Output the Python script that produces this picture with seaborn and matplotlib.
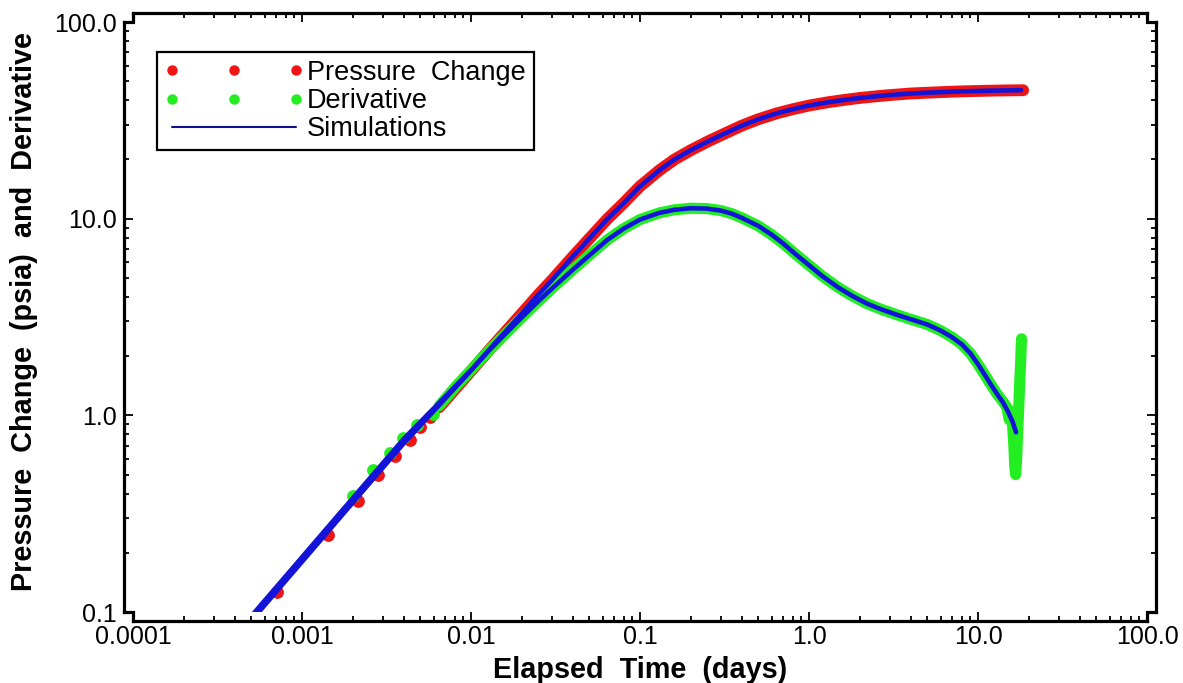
import numpy as np
import pandas as pd
import matplotlib
matplotlib.use("Agg")
import matplotlib.pyplot as plt
import seaborn as sns
from matplotlib.lines import Line2D
from matplotlib.legend_handler import HandlerLine2D
from matplotlib.ticker import FixedLocator, FixedFormatter, LogLocator, NullFormatter

# ---------------- data ----------------
# Pressure change data: sparse early points, then dense record
press_t_early = [0.00071, 0.00143, 0.00215, 0.00282, 0.00355, 0.00435, 0.00499, 0.00572]
press_p_early = [0.127, 0.245, 0.368, 0.50, 0.623, 0.75, 0.875, 0.98]
press_t = [0.0065, 0.008, 0.01, 0.013, 0.016, 0.02, 0.025, 0.03, 0.04, 0.05, 0.064, 0.08,
           0.1, 0.13, 0.16, 0.2, 0.25, 0.3, 0.4, 0.5, 0.65, 0.8, 1.0, 1.3, 1.6, 2.0, 2.5,
           3.0, 4.0, 5.0, 6.5, 8.0, 10.0, 12.5, 15.0, 18.5]
press_p = [1.10, 1.35, 1.68, 2.18, 2.66, 3.3, 4.1, 4.85, 6.4, 7.9, 9.95, 12.0,
           14.6, 17.6, 20.0, 22.3, 24.6, 26.5, 29.7, 32.0, 34.4, 36.0, 37.6, 39.1, 40.1, 41.1, 41.9,
           42.5, 43.3, 43.7, 44.1, 44.4, 44.6, 44.8, 44.9, 45.0]

# Derivative data
deriv_t_early = [0.0020, 0.00263, 0.00332, 0.00398, 0.00479, 0.00596]
deriv_p_early = [0.39, 0.525, 0.645, 0.77, 0.89, 1.02]
deriv_t = [0.0065, 0.008, 0.01, 0.013, 0.016, 0.02, 0.025, 0.03, 0.04, 0.05, 0.064, 0.08,
           0.1, 0.13, 0.16, 0.2, 0.25, 0.3, 0.35, 0.4, 0.5, 0.6, 0.7, 0.85, 1.0, 1.2, 1.5,
           1.8, 2.2, 2.7, 3.3, 4.0, 5.0, 6.0, 7.0, 8.0, 9.0, 10.0, 11.0, 12.0, 13.0, 14.0,
           14.8, 15.3, 15.7, 16.0, 16.3, 16.5, 16.7, 16.9, 17.1, 17.3, 17.5, 17.7, 17.9, 18.0, 18.1]
deriv_p = [1.12, 1.38, 1.70, 2.17, 2.6, 3.15, 3.8, 4.4, 5.5, 6.5, 7.8, 8.9,
           9.9, 10.7, 11.1, 11.3, 11.25, 11.0, 10.6, 10.1, 9.2, 8.3, 7.5, 6.5, 5.8, 5.1, 4.45,
           4.05, 3.7, 3.45, 3.25, 3.08, 2.9, 2.7, 2.5, 2.3, 2.07, 1.82, 1.6, 1.42, 1.28, 1.18,
           1.1, 0.95, 1.05, 0.9, 0.7, 0.55, 0.5, 0.58, 0.75, 0.95, 1.2, 1.55, 1.9, 2.2, 2.45]

# Simulated (model) curves
sim_press_t = [0.00045, 0.001, 0.002, 0.004, 0.0065, 0.01, 0.013, 0.016, 0.02, 0.025, 0.03,
               0.04, 0.05, 0.064, 0.08, 0.1, 0.13, 0.16, 0.2, 0.25, 0.3, 0.4, 0.5, 0.65, 0.8,
               1.0, 1.3, 1.6, 2.0, 2.5, 3.0, 4.0, 5.0, 6.5, 8.0, 10.0, 12.5, 15.0, 18.0]
sim_press_p = [0.081, 0.180, 0.360, 0.72, 1.13, 1.69, 2.19, 2.67, 3.3, 4.1, 4.85,
               6.4, 7.9, 9.95, 12.0, 14.6, 17.6, 20.0, 22.3, 24.6, 26.5, 29.7, 32.0, 34.4, 36.0,
               37.6, 39.1, 40.1, 41.1, 41.9, 42.5, 43.3, 43.7, 44.1, 44.4, 44.6, 44.8, 44.9, 45.0]
sim_deriv_t = [0.00045, 0.001, 0.002, 0.004, 0.0065, 0.01, 0.013, 0.016, 0.02, 0.025, 0.03,
               0.04, 0.05, 0.064, 0.08, 0.1, 0.13, 0.16, 0.2, 0.25, 0.3, 0.35, 0.4, 0.5, 0.6,
               0.7, 0.85, 1.0, 1.2, 1.5, 1.8, 2.2, 2.7, 3.3, 4.0, 5.0, 6.0, 7.0, 8.0, 9.0, 10.0,
               11.0, 12.0, 13.0, 14.0, 15.0, 16.0, 16.8]
sim_deriv_p = [0.0855, 0.190, 0.380, 0.76, 1.16, 1.70, 2.17, 2.6, 3.15, 3.8, 4.4,
               5.5, 6.5, 7.8, 8.9, 9.9, 10.7, 11.1, 11.3, 11.25, 11.0, 10.6, 10.1, 9.2, 8.3,
               7.5, 6.5, 5.8, 5.1, 4.45, 4.05, 3.7, 3.45, 3.25, 3.08, 2.9, 2.7, 2.5, 2.3, 2.07, 1.82,
               1.6, 1.42, 1.28, 1.17, 1.05, 0.93, 0.82]

x_ticks = [0.0001, 0.001, 0.01, 0.1, 1.0, 10.0, 100.0]
x_tick_labels = ["0.0001", "0.001", "0.01", "0.1", "1.0", "10.0", "100.0"]
y_ticks = [0.1, 1.0, 10.0, 100.0]
y_tick_labels = ["0.1", "1.0", "10.0", "100.0"]

legend_labels = ["Pressure  Change", "Derivative", "Simulations"]
x_label = "Elapsed  Time  (days)"
y_label = "Pressure  Change  (psia)  and  Derivative"

# ---------------- styling ----------------
sns.set_theme(style="white")
plt.rcParams["font.family"] = ["Liberation Sans", "DejaVu Sans"]
for key in ["text.color", "axes.labelcolor", "xtick.color", "ytick.color",
            "xtick.labelcolor", "ytick.labelcolor"]:
    plt.rcParams[key] = "black"

RED = "#F01414"
GREEN = "#22EE22"
BLUE = "#1414D8"
NAVY = "#10108C"

W, H = 1183, 683
L, R, T, B = 133, 1147, 22, 612      # data-area edges in pixels
OFF = 9                               # outward spine offset in pixels

fig = plt.figure(figsize=(W / 100, H / 100), dpi=100)
ax = fig.add_axes([L / W, 1 - B / H, (R - L) / W, (B - T) / H])
ax.set_facecolor("white")

press_early = pd.DataFrame({"t": press_t_early, "p": press_p_early})
press_dense = pd.DataFrame({"t": press_t, "p": press_p})
deriv_early = pd.DataFrame({"t": deriv_t_early, "p": deriv_p_early})
deriv_dense = pd.DataFrame({"t": deriv_t, "p": deriv_p})
sim_press = pd.DataFrame({"t": sim_press_t, "p": sim_press_p})
sim_deriv = pd.DataFrame({"t": sim_deriv_t, "p": sim_deriv_p})

ms = 85
sns.scatterplot(data=press_early, x="t", y="p", ax=ax, color=RED, s=ms, linewidth=0, zorder=2)
sns.lineplot(data=press_dense, x="t", y="p", ax=ax, color=RED, lw=8.5, sort=False,
             estimator=None, solid_capstyle="round", zorder=2)
sns.scatterplot(data=deriv_early, x="t", y="p", ax=ax, color=GREEN, s=ms, linewidth=0, zorder=3)
sns.lineplot(data=deriv_dense, x="t", y="p", ax=ax, color=GREEN, lw=8.0, sort=False,
             estimator=None, solid_capstyle="round", zorder=3)
sns.lineplot(data=sim_press, x="t", y="p", ax=ax, color=BLUE, lw=3.3, sort=False,
             estimator=None, zorder=4)
sns.lineplot(data=sim_deriv, x="t", y="p", ax=ax, color=BLUE, lw=3.3, sort=False,
             estimator=None, zorder=4)

ax.set_xscale("log")
ax.set_yscale("log")
ax.set_xlim(1e-4, 100)
ax.set_ylim(0.1, 100)

ax.xaxis.set_major_locator(FixedLocator(x_ticks))
ax.xaxis.set_major_formatter(FixedFormatter(x_tick_labels))
ax.yaxis.set_major_locator(FixedLocator(y_ticks))
ax.yaxis.set_major_formatter(FixedFormatter(y_tick_labels))
ax.xaxis.set_minor_locator(LogLocator(base=10, subs=np.arange(2, 10), numticks=20))
ax.yaxis.set_minor_locator(LogLocator(base=10, subs=np.arange(2, 10), numticks=20))
ax.xaxis.set_minor_formatter(NullFormatter())
ax.yaxis.set_minor_formatter(NullFormatter())

ax.tick_params(which="both", direction="in", top=True, right=True, bottom=True, left=True,
               color="black", width=1.3)
ax.tick_params(which="major", length=6.5)
ax.tick_params(which="minor", length=3.5)
ax.tick_params(axis="x", which="major", labelsize=18, pad=3, labelcolor="black")
ax.tick_params(axis="y", which="major", labelsize=18, pad=5, labelcolor="black")

for side in ["left", "right", "top", "bottom"]:
    ax.spines[side].set_visible(True)
    ax.spines[side].set_color("black")
    ax.spines[side].set_linewidth(2.3)
    ax.spines[side].set_position(("outward", OFF * 72 / 100))

# small step connectors joining the offset spines at each corner
corners = [
    [(L - OFF, T), (L, T), (L, T - OFF)],
    [(L - OFF, B), (L, B), (L, B + OFF)],
    [(R + OFF, B), (R, B), (R, B + OFF)],
    [(R + OFF, T), (R, T), (R, T - OFF)],
]
for pts in corners:
    xs = [p[0] / W for p in pts]
    ys = [1 - p[1] / H for p in pts]
    fig.add_artist(Line2D(xs, ys, transform=fig.transFigure, color="black", lw=2.3,
                          solid_joinstyle="miter", solid_capstyle="projecting"))

ax.set_xlabel(x_label, fontsize=20.8, fontweight="bold", color="black")
ax.set_ylabel(y_label, fontsize=20.8, fontweight="bold", color="black")
ax.xaxis.set_label_coords(0.5, -0.075)
ax.yaxis.set_label_coords(-0.094, 0.51)


class ShiftedHandler(HandlerLine2D):
    def __init__(self, shift=5.0, **kw):
        super().__init__(**kw)
        self.shift = shift

    def create_artists(self, legend, orig_handle, xdescent, ydescent, width, height,
                       fontsize, trans):
        return super().create_artists(legend, orig_handle, xdescent - self.shift, ydescent,
                                      width, height, fontsize, trans)


handles = [
    Line2D([], [], color=RED, marker="o", linestyle="none", markersize=7.5, markeredgewidth=0),
    Line2D([], [], color=GREEN, marker="o", linestyle="none", markersize=7.5, markeredgewidth=0),
    Line2D([], [], color=NAVY, lw=1.5),
]
leg = ax.legend(handles, legend_labels, loc="upper left",
                bbox_to_anchor=(157 / W, 1 - 52 / H), bbox_transform=fig.transFigure,
                borderaxespad=0, fontsize=19.5, numpoints=3, handlelength=4.58,
                handletextpad=0.67, labelspacing=0.08, borderpad=0.29,
                frameon=True, fancybox=False, framealpha=1, edgecolor="black",
                handler_map={Line2D: ShiftedHandler(shift=5.0, marker_pad=0)})
leg.get_frame().set_linewidth(1.6)

fig.savefig("out.png", dpi=100, facecolor="white")
